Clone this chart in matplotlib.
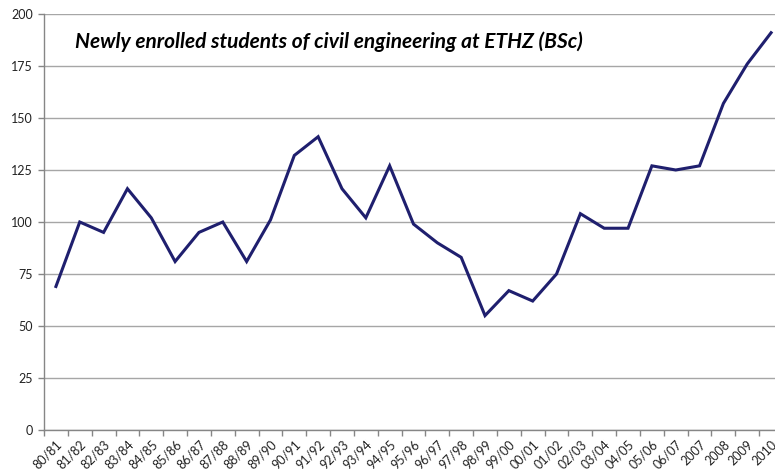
import matplotlib
matplotlib.use("Agg")
import matplotlib.pyplot as plt
import numpy as np
from matplotlib.ticker import FixedLocator, NullFormatter

years = ["80/81", "81/82", "82/83", "83/84", "84/85", "85/86", "86/87", "87/88",
         "88/89", "89/90", "90/91", "91/92", "92/93", "93/94", "94/95", "95/96",
         "96/97", "97/98", "98/99", "99/00", "00/01", "01/02", "02/03", "03/04",
         "04/05", "05/06", "06/07", "2007", "2008", "2009", "2010"]
students = [69, 100, 95, 116, 102, 81, 95, 100, 81, 101, 132, 141, 116, 102, 127,
            99, 90, 83, 55, 67, 62, 75, 104, 97, 97, 127, 125, 127, 157, 176, 191]
yticks = [0, 25, 50, 75, 100, 125, 150, 175, 200]
title = "Newly enrolled students of civil engineering at ETHZ (BSc)"

plt.rcParams['font.family'] = ['Lato', 'DejaVu Sans']

fig = plt.figure(figsize=(7.75, 4.72), dpi=100)
ax = fig.add_axes([44/775, 42/472, 739/775, 416/472])

x = np.arange(len(years))
ax.plot(x, students, color='#1f1f6e', linewidth=2.2, solid_joinstyle='miter')

ax.set_xlim(-0.5, len(years) - 0.5)
ax.set_ylim(0, 200)
ax.set_yticks(yticks)
ax.set_yticklabels([str(v) for v in yticks], fontsize=9, color='#222222')
ax.yaxis.grid(True, color='#a6a6a6', linewidth=1.0)
ax.set_axisbelow(True)

ax.set_xticks(x)
ax.set_xticklabels(years, rotation=45, ha='right', rotation_mode='anchor',
                   fontsize=9, color='#222222')
ax.tick_params(axis='x', which='major', length=0, pad=6)
ax.xaxis.set_minor_locator(FixedLocator(np.arange(-0.5, len(years), 1.0)))
ax.xaxis.set_minor_formatter(NullFormatter())
ax.tick_params(axis='x', which='minor', length=4, color='#868686', width=1)
ax.tick_params(axis='y', length=4, color='#868686', width=1, pad=4)

for s in ['top', 'right']:
    ax.spines[s].set_visible(False)
for s in ['left', 'bottom']:
    ax.spines[s].set_color('#868686')
    ax.spines[s].set_linewidth(1)

fig.text(75/775, 1 - 42/472, title, fontsize=15, fontweight='bold', fontstyle='italic',
         va='center', ha='left', color='black')

fig.savefig("out.png", dpi=100)
